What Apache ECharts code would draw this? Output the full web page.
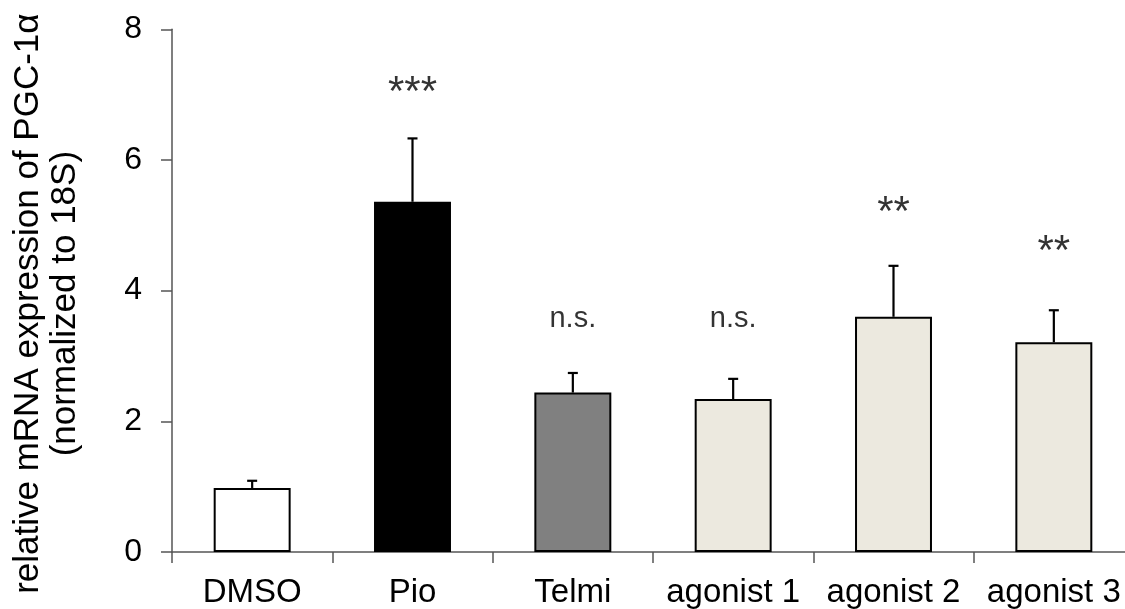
<!DOCTYPE html>
<html>
<head>
<meta charset="utf-8">
<style>
  html, body { margin: 0; padding: 0; background: #fff; }
  #chart { width: 1125px; height: 609px; }
</style>
<script src="https://cdn.jsdelivr.net/npm/echarts@6/dist/echarts.min.js"></script>
</head>
<body>
<div id="chart"></div>
<script>
// ---- data ----
const categories = ['DMSO', 'Pio', 'Telmi', 'agonist 1', 'agonist 2', 'agonist 3'];
const means      = [0.98, 5.36, 2.44, 2.34, 3.60, 3.21];
const errors     = [0.11, 0.97, 0.30, 0.31, 0.78, 0.49];
const significance = ['', '***', 'n.s.', 'n.s.', '**', '**'];
const significanceLevel = [0, 7.02, 3.57, 3.57, 5.18, 4.59];
const yTicks = [0, 2, 4, 6, 8];

// ---- styles ----
const barColors = ['#ffffff', '#000000', '#808080', '#ece9df', '#ece9df', '#ece9df'];
const FONT = "'Liberation Sans', Arial, sans-serif";

const chart = echarts.init(document.getElementById('chart'), null, { renderer: 'canvas' });

const option = {
  animation: false,
  backgroundColor: '#ffffff',
  grid: { left: 172, right: -9, top: 29.3, bottom: 57, containLabel: false, outerBoundsMode: 'none' },
  xAxis: {
    type: 'category',
    data: categories,
    boundaryGap: true,
    axisLine: { show: true, lineStyle: { color: '#555', width: 1.5 } },
    axisTick: { show: true, length: 11, lineStyle: { color: '#555', width: 1.5 } },
    axisLabel: { color: '#000', fontSize: 33, fontFamily: FONT, margin: 24, interval: 0, hideOverlap: false }
  },
  yAxis: {
    type: 'value',
    min: yTicks[0],
    max: yTicks[yTicks.length - 1],
    interval: yTicks[1] - yTicks[0],
    name: 'relative mRNA expression of PGC-1α\n(normalized to 18S)',
    nameLocation: 'middle',
    nameGap: 88,
    nameTextStyle: { color: '#000', fontSize: 35, fontFamily: FONT, lineHeight: 37, padding: [0, 26, 0, 0] },
    splitLine: { show: false },
    axisLine: { show: true, lineStyle: { color: '#555', width: 1.5 } },
    axisTick: { show: true, length: 11, lineStyle: { color: '#555', width: 1.5 } },
    axisLabel: { color: '#000', fontSize: 32, fontFamily: FONT, margin: 30 }
  },
  series: [
    {
      type: 'bar',
      data: means.map((v, i) => ({
        value: v,
        itemStyle: { color: barColors[i], borderColor: '#000', borderWidth: 2 }
      })),
      barWidth: '48%',
      z: 2
    },
    {
      type: 'custom',
      data: means.map((v, i) => [i, v, errors[i]]),
      encode: { x: 0, y: 1 },
      z: 3,
      renderItem: function (params, api) {
        const i = api.value(0), m = api.value(1), e = api.value(2);
        const base = api.coord([i, m]);
        const top = api.coord([i, m + e]);
        const half = 5;
        const st = { stroke: '#000', lineWidth: 2.2 };
        return {
          type: 'group',
          children: [
            { type: 'line', shape: { x1: base[0], y1: base[1], x2: top[0], y2: top[1] }, style: st },
            { type: 'line', shape: { x1: top[0] - half, y1: top[1], x2: top[0] + half, y2: top[1] }, style: st }
          ]
        };
      }
    },
    {
      type: 'scatter',
      symbolSize: 1,
      itemStyle: { color: 'transparent' },
      z: 4,
      data: significance.map((t, i) => t ? {
        value: [i, significanceLevel[i]],
        label: {
          show: true,
          position: 'inside',
          formatter: t,
          color: '#000',
          fontFamily: FONT,
          fontSize: t.charAt(0) === '*' ? 42 : 29
        }
      } : null).filter(d => d !== null)
    }
  ]
};

chart.setOption(option);
</script>
</body>
</html>
